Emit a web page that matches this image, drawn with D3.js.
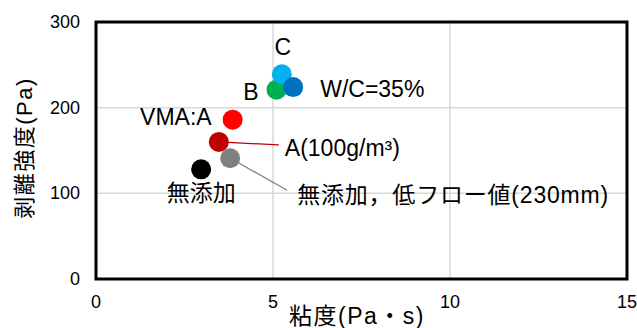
<html>
  <head>
    <meta charset="utf-8" />
    <script src="https://d3js.org/d3.v7.min.js"></script>
    <style>
      body { margin: 0; background: #fff; }
      text { font-family: "Liberation Sans", Arial, "Noto Sans CJK JP", sans-serif; fill: #000; }
    </style>
  </head>
  <body>
    <svg id="chart" width="637" height="328"></svg>
    <script>
      // data: viscosity (Pa·s) vs peel strength (Pa)
      const names = ["B", "C", "W/C=35%", "無添加", "無添加，低フロー値(230mm)", "A(100g/m³)", "VMA:A"];
      const viscosity = [5.10, 5.25, 5.57, 2.97, 3.79, 3.47, 3.86];
      const strength = [221, 239, 224, 128, 141, 160, 186];
      const colors = ["#00B050", "#00B0F0", "#0070C0", "#000000", "#808080", "#C00000", "#FF0000"];

      const xTicks = [0, 5, 10, 15];
      const yTicks = [0, 100, 200, 300];

      // label placement (px offset from the point), leader line end if any
      const labelDx = [-18, 1, 27, 0, 67, 66, -21];
      const labelDy = [10, -19, 10, 32, 45, 14, 5];
      const labelAnchor = ["end", "middle", "start", "middle", "start", "start", "end"];
      const labelSpacing = [0, 0, 0, 0, 0.8, 0, 0];
      const leaderEnd = [null, null, null, null, [57, 32], [60, 3], null];

      const svg = d3.select("#chart");
      const mLeft = 96, mRight = 627, mTop = 22, mBottom = 279;

      const x = d3.scaleLinear().domain([0, 15]).range([mLeft, mRight]);
      const y = d3.scaleLinear().domain([0, 300]).range([mBottom, mTop]);

      // gridlines
      svg.append("g")
        .selectAll("line")
        .data(xTicks.slice(1, -1))
        .join("line")
        .attr("x1", d => x(d)).attr("x2", d => x(d))
        .attr("y1", mTop).attr("y2", mBottom)
        .style("stroke", "#d9d9d9").style("stroke-width", 1.5);

      svg.append("g")
        .selectAll("line")
        .data(yTicks.slice(1, -1))
        .join("line")
        .attr("x1", mLeft).attr("x2", mRight)
        .attr("y1", d => y(d)).attr("y2", d => y(d))
        .style("stroke", "#d9d9d9").style("stroke-width", 1.5);

      // tick labels
      svg.append("g")
        .selectAll("text")
        .data(xTicks)
        .join("text")
        .attr("x", d => x(d))
        .attr("y", 308)
        .attr("text-anchor", "middle")
        .style("font-size", "18px")
        .text(d => d);

      svg.append("g")
        .selectAll("text")
        .data(yTicks)
        .join("text")
        .attr("x", 80)
        .attr("y", d => y(d) + 6)
        .attr("text-anchor", "end")
        .style("font-size", "18px")
        .text(d => d);

      // axis titles
      svg.append("text")
        .attr("x", 357)
        .attr("y", 324)
        .attr("text-anchor", "middle")
        .style("font-size", "23px")
        .style("letter-spacing", "1.5px")
        .text("粘度(Pa・s)");

      svg.append("text")
        .attr("transform", "translate(32,148) rotate(-90)")
        .attr("text-anchor", "middle")
        .style("font-size", "22px")
        .style("letter-spacing", "1.5px")
        .text("剥離強度(Pa)");

      const pts = names.map((n, i) => ({
        name: n, vx: viscosity[i], vy: strength[i], color: colors[i],
        dx: labelDx[i], dy: labelDy[i], anchor: labelAnchor[i],
        spacing: labelSpacing[i], leader: leaderEnd[i]
      }));

      // leader lines
      svg.append("g")
        .selectAll("line")
        .data(pts.filter(d => d.leader))
        .join("line")
        .attr("x1", d => x(d.vx)).attr("y1", d => y(d.vy))
        .attr("x2", d => x(d.vx) + d.leader[0]).attr("y2", d => y(d.vy) + d.leader[1])
        .style("stroke", d => d.color)
        .style("stroke-width", 1.3);

      // points
      svg.append("g")
        .selectAll("circle")
        .data(pts)
        .join("circle")
        .attr("cx", d => x(d.vx))
        .attr("cy", d => y(d.vy))
        .attr("r", 10)
        .style("fill", d => d.color);

      // labels
      svg.append("g")
        .selectAll("text")
        .data(pts)
        .join("text")
        .attr("x", d => x(d.vx) + d.dx)
        .attr("y", d => y(d.vy) + d.dy)
        .attr("text-anchor", d => d.anchor)
        .style("font-size", "23px")
        .style("letter-spacing", d => d.spacing + "px")
        .text(d => d.name);

      // plot frame
      svg.append("rect")
        .attr("x", mLeft).attr("y", mTop)
        .attr("width", mRight - mLeft).attr("height", mBottom - mTop)
        .style("fill", "none")
        .style("stroke", "#000")
        .style("stroke-width", 3);
    </script>
  </body>
</html>
